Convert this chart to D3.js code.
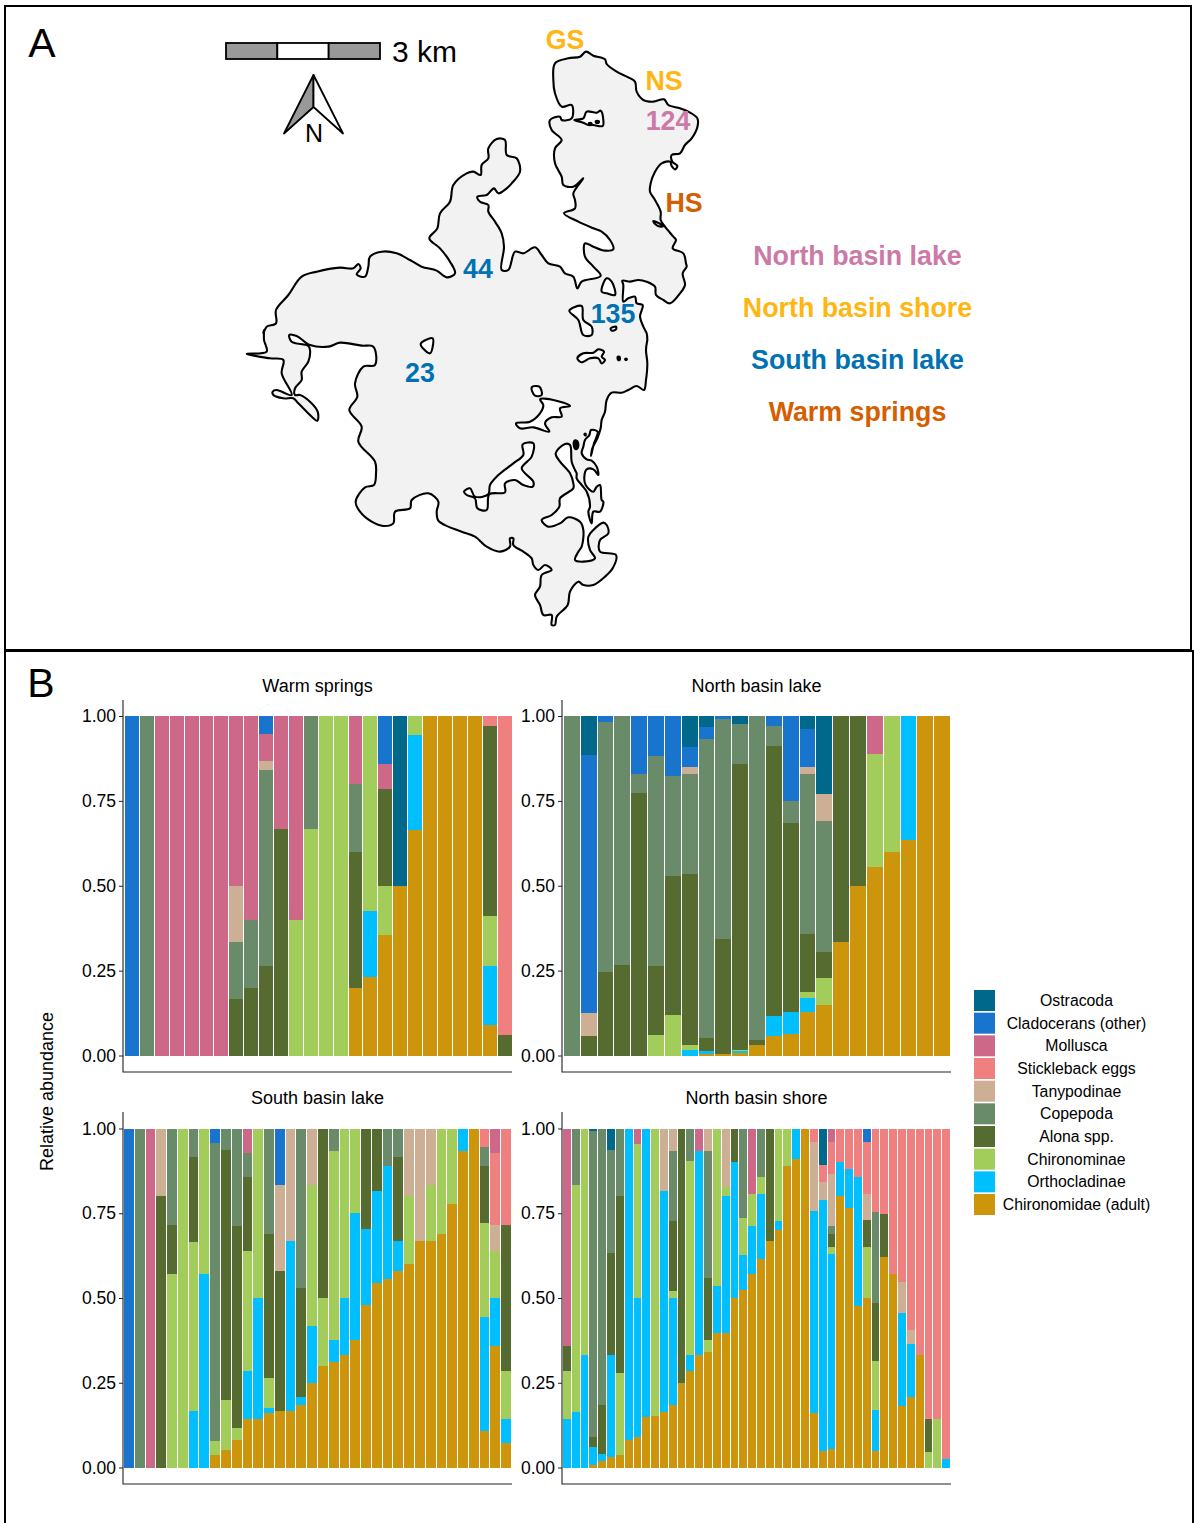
<!DOCTYPE html>
<html>
<head>
<meta charset="utf-8">
<script src="https://cdnjs.cloudflare.com/ajax/libs/d3/7.8.5/d3.min.js"></script>
<style>
  body { margin: 0; background: white; }
  text { font-family: "Liberation Sans", Arial, sans-serif; fill: black; }
</style>
</head>
<body>
<svg id="fig" width="1194" height="1523"></svg>
<script>
// taxa in stacking order, top of the bar first
const taxa = ['Ostracoda','Cladocerans (other)','Mollusca','Stickleback eggs','Tanypodinae',
  'Copepoda','Alona spp.','Chironominae','Orthocladinae','Chironomidae (adult)'];
const taxaColor = ['#00688B','#1874CD','#CD6889','#F08080','#CDAF95',
  '#698B69','#556B2F','#A2CD5A','#00BFFF','#CD950C'];
const yTicks = [0, 0.25, 0.5, 0.75, 1];

// each row is one sample, same order as taxa
const warmSprings = [
  [0,1,0,0,0,0,0,0,0,0],
  [0,0,0,0,0,1,0,0,0,0],
  [0,0,1,0,0,0,0,0,0,0],
  [0,0,1,0,0,0,0,0,0,0],
  [0,0,1,0,0,0,0,0,0,0],
  [0,0,1,0,0,0,0,0,0,0],
  [0,0,1,0,0,0,0,0,0,0],
  [0,0,.5,0,.167,.167,.166,0,0,0],
  [0,0,.6,0,0,.2,.2,0,0,0],
  [0,.053,.08,0,.027,.577,.263,0,0,0],
  [0,0,.333,0,0,0,.667,0,0,0],
  [0,0,.6,0,0,0,0,.4,0,0],
  [0,0,0,0,0,.333,0,.667,0,0],
  [0,0,0,0,0,0,0,1,0,0],
  [0,0,0,0,0,0,0,1,0,0],
  [0,0,.2,0,0,.2,.4,0,0,.2],
  [0,0,0,0,0,0,0,.575,.195,.23],
  [0,.142,.073,0,0,0,.285,.145,0,.355],
  [.5,0,0,0,0,0,0,0,0,.5],
  [0,0,0,0,0,0,0,.056,.28,.664],
  [0,0,0,0,0,0,0,0,0,1],
  [0,0,0,0,0,0,0,0,0,1],
  [0,0,0,0,0,0,0,0,0,1],
  [0,0,0,0,0,0,0,0,0,1],
  [0,0,0,.03,0,0,.56,.147,.174,.089],
  [0,0,0,.941,0,0,.059,0,0,0]
];

const northLake = [
  [0,0,0,0,0,1,0,0,0,0],
  [.115,.761,0,0,.068,0,.056,0,0,0],
  [0,.018,0,0,0,.737,.245,0,0,0],
  [0,0,0,0,0,.734,.266,0,0,0],
  [0,.171,0,0,0,.056,.773,0,0,0],
  [0,.118,0,0,0,.619,.204,.059,0,0],
  [0,.177,0,0,0,.295,.41,.118,0,0],
  [.092,.058,0,0,.02,.296,.502,.017,.015,0],
  [.032,.036,0,0,0,.879,.041,0,.008,.004],
  [0,.009,0,0,0,.649,.339,0,0,.003],
  [.024,0,0,0,0,.118,.841,.003,.006,.008],
  [0,0,0,0,0,.953,.017,0,0,.03],
  [0,.03,0,0,0,.059,.796,0,.059,.056],
  [0,.251,0,0,0,.065,.557,0,.064,.063],
  [.038,.112,0,0,.02,.472,.17,.02,.039,.129],
  [.23,0,0,0,.08,.384,.079,.077,0,.15],
  [0,0,0,0,0,0,.667,0,0,.333],
  [0,0,0,0,0,0,.5,0,0,.5],
  [0,0,.112,0,0,0,0,.333,0,.555],
  [0,0,0,0,0,0,0,.4,0,.6],
  [0,0,0,0,0,0,0,0,.365,.635],
  [0,0,0,0,0,0,0,0,0,1],
  [0,0,0,0,0,0,0,0,0,1]
];

const southLake = [
  [0,1,0,0,0,0,0,0,0,0],
  [0,0,0,0,0,1,0,0,0,0],
  [0,0,1,0,0,0,0,0,0,0],
  [0,0,0,0,.2,0,.8,0,0,0],
  [0,0,0,0,0,.286,.143,.571,0,0],
  [0,0,0,0,0,0,0,1,0,0],
  [0,0,0,0,0,.085,.251,.498,.166,0],
  [0,0,0,0,0,0,0,.429,.571,0],
  [0,.042,0,0,0,.881,0,.039,0,.038],
  [0,0,0,0,0,.062,.738,.147,0,.053],
  [0,0,0,0,0,.289,.595,.036,0,.08],
  [0,0,.073,0,0,.071,.216,.354,.143,.143],
  [0,0,0,0,0,0,0,.5,.357,.143],
  [0,0,0,0,0,.31,.427,.088,.015,.16],
  [0,.167,0,0,.253,0,.414,0,0,.166],
  [0,0,0,0,.333,0,0,0,.501,.166],
  [0,0,0,0,0,.471,.322,0,.022,.185],
  [0,0,0,0,.167,0,0,.416,.167,.25],
  [0,0,0,0,0,0,.5,.2,0,.3],
  [0,0,0,0,0,.065,0,.56,.065,.31],
  [0,0,0,0,0,0,0,.5,.167,.333],
  [0,0,0,0,0,0,0,.25,.375,.375],
  [0,0,0,0,0,0,.297,0,.224,.479],
  [0,0,0,0,0,0,.183,0,.273,.544],
  [0,0,0,0,0,.112,0,0,.333,.555],
  [0,0,0,0,0,.085,.248,0,.087,.58],
  [0,0,0,0,.2,0,0,.2,0,.6],
  [0,0,0,0,.333,0,0,0,0,.667],
  [0,0,0,0,.167,0,0,.166,0,.667],
  [0,0,0,0,0,0,0,.312,0,.688],
  [0,0,0,0,0,0,0,.224,0,.776],
  [0,0,0,0,0,0,0,0,.067,.933],
  [0,0,0,0,0,0,0,0,0,1],
  [0,0,0,.056,0,.056,.168,.277,.334,.109],
  [0,0,.073,.213,.074,0,0,.14,.143,.357],
  [0,0,0,.286,0,0,.428,.144,.071,.071]
];

const northShore = [
  [0,0,.643,0,0,0,.072,.143,.142,0],
  [0,0,0,0,0,.168,0,.667,.165,0],
  [0,0,0,0,0,0,0,.667,.333,0],
  [.008,0,0,0,0,.902,.031,0,.053,.006],
  [0,0,0,0,0,.817,.142,0,.021,.02],
  [.062,0,0,0,0,.304,.303,0,.301,.03],
  [0,0,0,0,0,.2,.52,.242,0,.038],
  [0,0,0,0,0,0,0,0,.92,.08],
  [0,0,.047,0,0,0,0,.453,.41,.09],
  [0,0,0,0,0,0,0,0,.85,.15],
  [0,0,0,0,0,0,0,.847,0,.153],
  [0,0,0,0,.183,0,0,0,.652,.165],
  [0,0,0,0,.065,.209,.204,.022,.315,.185],
  [0,0,0,0,0,0,.75,0,0,.25],
  [0,0,0,0,0,.095,0,.572,.049,.284],
  [0,0,.067,0,0,0,0,0,.6,.333],
  [0,0,0,0,.065,.375,.185,.033,0,.342],
  [0,0,0,0,0,0,0,.466,.136,.398],
  [0,0,0,0,.174,0,0,.026,.402,.398],
  [0,0,0,0,0,0,.1,0,.4,.5],
  [0,0,0,0,0,.265,0,.107,.103,.525],
  [0,0,.192,0,0,0,0,.097,.141,.57],
  [0,0,0,0,0,.144,0,.05,.19,.616],
  [0,0,0,0,0,0,.333,0,0,.667],
  [0,0,0,0,0,0,0,.272,.028,.7],
  [0,0,0,0,0,0,0,.112,0,.888],
  [0,0,0,0,0,0,0,0,.091,.909],
  [0,0,0,0,0,0,0,0,0,1],
  [0,0,0,.041,.202,0,0,0,.597,.16],
  [.107,0,0,.052,.051,0,0,0,.74,.05],
  [0,0,.041,.094,.154,.021,.039,.02,.575,.056],
  [0,0,0,.1,0,0,0,0,.1,.8],
  [0,0,0,.118,0,0,0,0,.117,.765],
  [0,0,0,.143,0,0,0,0,.382,.475],
  [0,.041,0,.151,.078,0,.08,.15,0,.5],
  [0,0,0,.246,0,.269,.171,.144,.122,.048],
  [0,0,0,.251,0,0,.127,0,0,.622],
  [0,0,0,.43,0,0,0,0,0,.57],
  [0,0,0,.453,.092,0,0,0,.275,.18],
  [0,0,0,.595,.042,0,0,0,.154,.209],
  [0,0,0,.667,0,0,0,0,0,.333],
  [0,0,0,.858,0,0,.095,.047,0,0],
  [0,0,0,.858,0,0,0,.142,0,0],
  [0,0,0,.974,0,0,0,0,.026,0]
];

const panels = [
  {title:'Warm springs', rows:warmSprings, xr:[123,512], bars:[125,511.5], yr:[1055.5,716], top:700, base:1072},
  {title:'North basin lake', rows:northLake, xr:[562,951], bars:[564,950], yr:[1055.5,716], top:700, base:1072},
  {title:'South basin lake', rows:southLake, xr:[123,512], bars:[124,511], yr:[1467.5,1128.5], top:1112, base:1484},
  {title:'North basin shore', rows:northShore, xr:[562,951], bars:[563,950], yr:[1467.5,1128.5], top:1112, base:1484}
];

// lake outline, in two sheets of grid units
const shoreNorthEast = [[1038,35],[1060,47],[1095,58],[1100,72],[1130,95],[1165,112],[1185,125],[1190,155],[1210,180],[1240,185],[1272,178],[1285,195],[1320,205],[1345,215],[1372,235],[1372,262],[1355,295],[1335,315],[1320,340],[1295,345],[1297,365],[1312,378],[1305,388],[1295,378],[1290,365],[1265,370],[1245,395],[1232,430],[1230,455],[1245,480],[1262,515],[1262,540],[1275,560],[1300,590],[1308,600],[1298,625],[1330,640],[1338,670],[1340,680],[1328,700],[1335,735],[1320,760],[1290,790],[1270,780],[1248,765],[1245,740],[1220,725],[1195,720],[1170,725],[1147,722],[1150,735],[1150,785],[1165,775],[1185,770],[1190,790],[1208,795],[1200,830],[1210,860],[1220,880],[1222,900]];
const shoreSouth = [[1222,30],[1218,60],[1222,100],[1218,150],[1212,180],[1190,168],[1165,180],[1145,188],[1115,188],[1100,210],[1095,245],[1085,270],[1082,295],[1072,325],[1057,355],[1053,378],[1062,340],[1073,305],[1053,300],[1048,315],[1035,330],[1030,350],[1025,370],[1040,388],[1055,392],[1070,410],[1075,435],[1060,418],[1040,418],[1033,440],[1037,465],[1060,485],[1070,470],[1080,465],[1085,510],[1090,515],[1080,545],[1060,545],[1055,580],[1045,545],[1050,530],[1040,485],[1025,465],[1010,445],[1010,430],[1005,420],[995,395],[990,345],[975,342],[947,370],[960,395],[990,430],[1000,460],[1000,475],[960,505],[958,530],[935,555],[905,570],[925,590],[960,580],[985,562],[1020,575],[1030,600],[1025,650],[1015,665],[1005,690],[1030,695],[1065,685],[1050,660],[1045,620],[1060,600],[1090,578],[1100,585],[1105,610],[1080,630],[1080,665],[1128,675],[1118,715],[1095,740],[1060,765],[1030,765],[1015,755],[990,785],[983,825],[950,860],[945,885],[935,885],[935,855],[910,855],[900,825],[885,795],[900,770],[905,735],[935,720],[915,705],[895,720],[880,705],[875,685],[850,665],[820,645],[820,625],[810,625],[810,650],[780,665],[740,650],[705,620],[665,605],[625,590],[595,572],[590,545],[595,515],[565,490],[515,510],[510,535],[465,545],[460,580],[430,588],[395,575],[360,545],[347,515],[375,472],[402,465],[408,430],[405,395],[355,335],[365,290],[328,240],[352,200],[345,160],[370,110],[405,105],[400,50],[365,47],[300,38],[265,50],[210,45],[170,18],[148,15],[155,35],[205,48],[210,60],[205,95],[185,125],[185,150],[165,175],[165,195],[180,195],[210,215],[233,245],[232,272],[200,245],[175,220],[160,205],[130,205],[100,195],[98,185],[110,180],[155,195],[125,130],[130,90],[90,85],[20,72],[80,65],[72,30],[72,0]];
const shoreNorthWest = [[70,880],[80,860],[108,850],[108,810],[145,765],[185,710],[230,695],[300,683],[340,685],[355,672],[362,685],[350,703],[375,710],[385,680],[390,650],[425,635],[470,640],[510,660],[545,680],[590,692],[620,712],[645,700],[630,665],[600,625],[568,595],[592,565],[600,520],[630,485],[640,435],[680,400],[700,395],[722,405],[725,375],[745,355],[745,325],[770,297],[795,300],[800,345],[830,355],[840,395],[815,430],[800,445],[775,460],[762,445],[740,465],[712,470],[720,485],[745,495],[745,515],[765,545],[785,580],[792,620],[785,690],[805,690],[825,635],[850,640],[885,622],[905,645],[925,670],[960,680],[975,700],[1000,710],[1012,745],[1025,725],[1082,708],[1060,680],[1035,650],[1035,610],[1060,620],[1095,632],[1120,628],[1110,600],[1085,575],[1060,565],[1015,545],[972,520],[1005,505],[1005,480],[1000,460],[1030,415],[1000,440],[970,435],[965,410],[945,370],[945,325],[965,300],[935,270],[930,240],[960,230],[965,240],[995,235],[995,195],[965,200],[945,160],[940,120],[945,70],[985,55],[1020,50]];

const islandsNorth = [
  [[1003,240],[1030,235],[1040,215],[1070,218],[1082,212],[1090,240],[1088,258],[1060,255],[1045,255],[1030,248]],
  [[1240,543],[1270,558],[1262,560],[1245,552]],
  [[1085,755],[1100,715],[1115,725],[1125,765],[1100,760]],
  [[988,812],[1025,798],[1030,840],[1055,860],[1055,885],[1030,885],[1015,840]],
  [[1112,865],[1128,860],[1128,868],[1115,872]]
];
const islandsSouth = [
  [[542,42],[578,25],[570,70]],
  [[1012,85],[1030,70],[1060,68],[1075,58],[1092,65],[1085,80],[1095,90],[1085,100],[1075,85],[1050,85],[1025,97]],
  [[875,172],[898,170],[905,195],[885,197]],
  [[900,208],[940,210],[990,228],[960,235],[965,260],[935,262],[915,280],[928,305],[880,292],[840,295],[828,280],[870,275],[900,250],[910,225]],
  [[848,343],[880,340],[875,380],[845,415],[880,455],[878,470],[850,465],[825,450],[795,460],[795,487],[748,493],[740,540],[712,535],[705,505],[680,495],[672,485],[690,475],[705,500],[745,493],[750,465],[775,435],[820,400],[850,375]]
];
// islets too small to show any white
const isletsNorth = [
  [[1047,249],[1054,249],[1054,254],[1047,254]],
  [[1068,243],[1076,243],[1076,248],[1068,248]]
];
const isletsSouth = [
  [[1133,80],[1139,81],[1139,90],[1134,89]],
  [[1156,86],[1160,86],[1160,89],[1156,89]],
  [[1002,334],[1010,332],[1015,345],[1010,357],[1004,355]],
  [[1034,311],[1037,311],[1037,316],[1034,315]]
];

const mapLabels = [
  ['GS',565,49,'#FFB612'],['NS',664,90,'#FFB612'],['124',668,130,'#CC79A7'],['HS',684,212,'#D55E00'],
  ['44',478,278,'#0072B2'],['135',613,323,'#0072B2'],['23',420,382,'#0072B2'],
  ['North basin lake',857.5,265,'#CC79A7'],['North basin shore',857.5,317,'#FFB612'],
  ['South basin lake',857.5,368.5,'#0072B2'],['Warm springs',857.5,420.5,'#D55E00']
];

var svg = d3.select('#fig');

// frames and panel letters
svg.append('rect').attr('x',5).attr('y',6).attr('width',1186).attr('height',644)
  .attr('fill','none').attr('stroke','black').attr('stroke-width',2);
svg.append('path').attr('d','M5,1523V651H1193V1523')
  .attr('fill','none').attr('stroke','black').attr('stroke-width',2);
svg.append('text').attr('x',42).attr('y',57).attr('text-anchor','middle').attr('font-size',41).text('A');
svg.append('text').attr('x',41).attr('y',697).attr('text-anchor','middle').attr('font-size',41).text('B');

// map
var gridX = d3.scaleLinear().domain([0,1410]).range([240,710]);
var gridYNorth = d3.scaleLinear().domain([0,900]).range([40,340]);
var gridYSouth = d3.scaleLinear().domain([0,900]).range([330,630]);
const toNorth = p => [gridX(p[0]), gridYNorth(p[1])];
const toSouth = p => [gridX(p[0]), gridYSouth(p[1])];

var outline = d3.line().curve(d3.curveCatmullRomClosed.alpha(0.5));
var gmap = svg.append('g').attr('stroke','black').attr('stroke-width',2.1).attr('stroke-linejoin','round');

gmap.append('path')
  .attr('d', outline([...shoreNorthEast.map(toNorth), ...shoreSouth.map(toSouth), ...shoreNorthWest.map(toNorth)]))
  .attr('fill','#F2F2F2');
gmap.selectAll('path.in')
  .data([...islandsNorth.map(d => d.map(toNorth)), ...islandsSouth.map(d => d.map(toSouth))])
  .enter().append('path').attr('class','in')
  .attr('d', d => outline(d)).attr('fill','white');
gmap.selectAll('path.islet')
  .data([...isletsNorth.map(d => d.map(toNorth)), ...isletsSouth.map(d => d.map(toSouth))])
  .enter().append('path').attr('class','islet')
  .attr('d', d => outline(d)).attr('fill','black');

// scale bar
var barX = d3.scaleLinear().domain([0,3]).range([226,380]);
svg.append('g').selectAll('rect').data([0,1,2]).enter().append('rect')
  .attr('x', d => barX(d)).attr('y',43).attr('height',16)
  .attr('width', d => barX(d+1)-barX(d))
  .attr('fill', d => d==1 ? 'white' : '#999999')
  .attr('stroke','black').attr('stroke-width',1.8);
svg.append('text').attr('x',392).attr('y',62).attr('font-size',30).text('3 km');

// north arrow
var garrow = svg.append('g').attr('stroke','black').attr('stroke-width',1.8).attr('stroke-linejoin','round');
garrow.append('path').attr('d','M313.5,75L284,133.5L313.5,107Z').attr('fill','#999999');
garrow.append('path').attr('d','M313.5,75L343,133.5L313.5,107Z').attr('fill','white');
svg.append('text').attr('x',314).attr('y',142).attr('text-anchor','middle').attr('font-size',25).text('N');

svg.append('g').selectAll('text').data(mapLabels).enter().append('text')
  .attr('x', d => d[1]).attr('y', d => d[2])
  .attr('text-anchor','middle').attr('font-size',26.8).attr('font-weight','bold')
  .style('fill', d => d[3]).text(d => d[0]);

// bar panels
var stack = d3.stack().keys(d3.range(taxa.length)).order(d3.stackOrderReverse).offset(d3.stackOffsetExpand);

function drawPanel(p){
  var g = svg.append('g');
  // padding worked out so the white gap stays one pixel in every panel
  var n = p.rows.length;
  var gap = n / (p.bars[1] - p.bars[0] + 1);
  var x = d3.scaleBand().domain(d3.range(n)).range(p.bars).paddingInner(gap);
  var y = d3.scaleLinear().domain([0,1]).range(p.yr);

  g.selectAll('g.layer').data(stack(p.rows)).enter().append('g').attr('class','layer')
    .attr('fill', d => taxaColor[d.key])
    .selectAll('rect').data(d => d.filter(v => v[1] > v[0])).enter().append('rect')
    .attr('shape-rendering','crispEdges')
    .attr('x', d => x(p.rows.indexOf(d.data)))
    .attr('width', x.bandwidth())
    .attr('y', d => y(d[1]))
    .attr('height', d => y(d[0]) - y(d[1]));

  var axis = d3.axisLeft(y).tickValues(yTicks).tickFormat(d3.format('.2f')).tickSize(4).tickPadding(3);
  var gy = g.append('g').attr('transform',`translate(${p.xr[0]},0)`).call(axis);
  gy.select('.domain').remove();
  gy.selectAll('line').attr('stroke','#222');
  gy.selectAll('text').attr('font-size',17.5).attr('font-family',null);

  g.append('path').attr('d',`M${p.xr[0]},${p.top}V${p.base}H${p.xr[1]}`)
    .attr('fill','none').attr('stroke','#222').attr('stroke-width',1.1);
  g.append('text').attr('x',(p.xr[0]+p.xr[1])/2).attr('y',p.top-8)
    .attr('text-anchor','middle').attr('font-size',18).text(p.title);
}
panels.forEach(drawPanel);

svg.append('text').attr('transform','translate(53,1091.5) rotate(-90)')
  .attr('text-anchor','middle').attr('font-size',18).text('Relative abundance');

// legend
var legY = d3.scaleBand().domain(taxa).range([990,1215]).paddingInner(0.074);
var leg = svg.append('g');
leg.selectAll('rect').data(taxa).enter().append('rect')
  .attr('x',974).attr('width',21).attr('y', d => legY(d)).attr('height',legY.bandwidth())
  .attr('fill', (d,i) => taxaColor[i]);
leg.selectAll('text').data(taxa).enter().append('text')
  .attr('x',1076.5).attr('y', d => legY(d)+legY.bandwidth()/2+5.5)
  .attr('text-anchor','middle').attr('font-size',15.8).text(d => d);
</script>
</body>
</html>
